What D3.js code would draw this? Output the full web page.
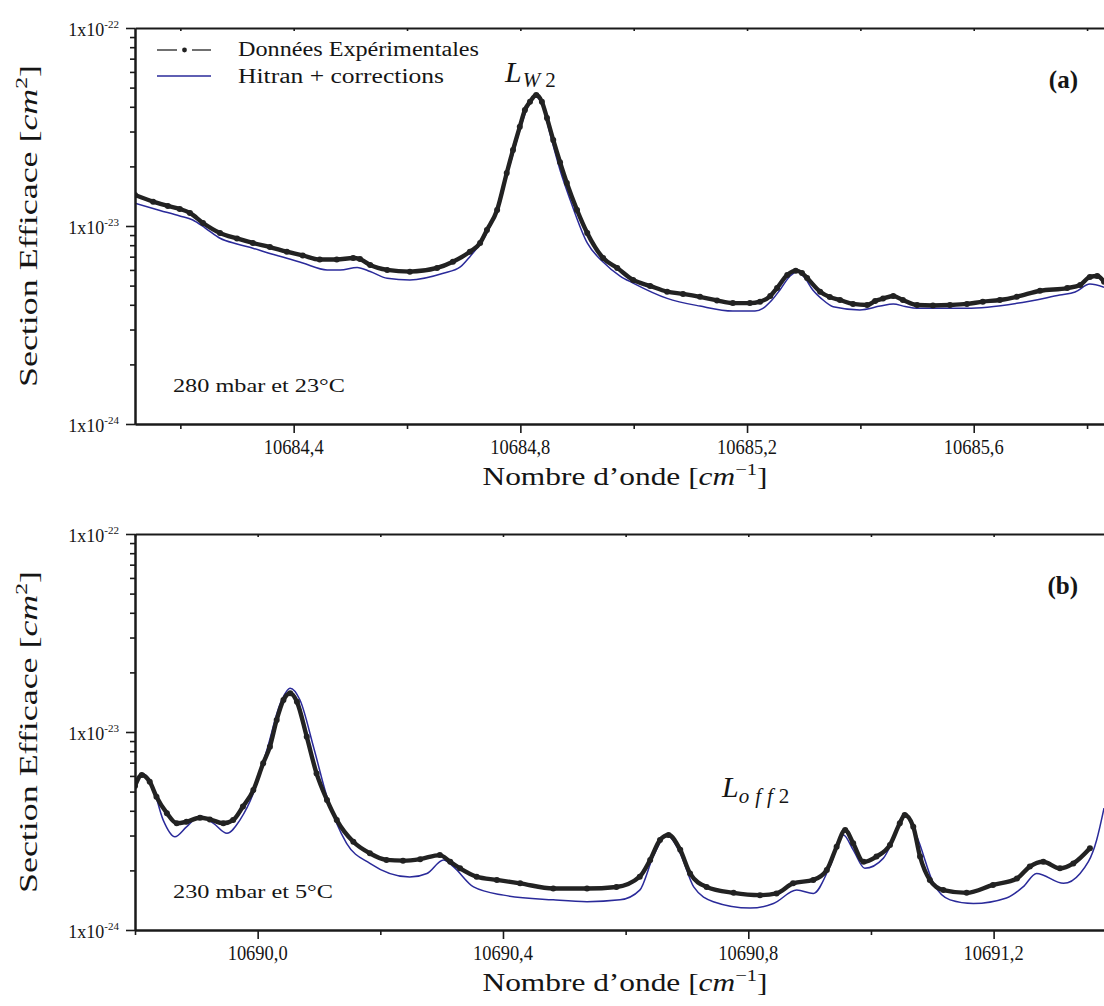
<!DOCTYPE html>
<html><head><meta charset="utf-8">
<script src="https://cdn.jsdelivr.net/npm/d3@7"></script>
<style>
body{margin:0;background:#fff}
svg{display:block}
text{font-family:"Liberation Serif","Times New Roman",serif;fill:#151515}
</style>
</head><body>
<svg id="chart" width="1104" height="1006"></svg>
<script>
// ---------- DATA ----------
// Panel (a): 280 mbar, 23 °C
const topExpWn = [10684.120,10684.152,10684.178,10684.199,10684.217,10684.240,10684.270,10684.300,10684.328,10684.358,10684.388,10684.416,10684.446,10684.476,10684.505,10684.517,10684.535,10684.565,10684.605,10684.653,10684.681,10684.711,10684.729,10684.741,10684.759,10684.776,10684.787,10684.799,10684.808,10684.817,10684.828,10684.838,10684.847,10684.858,10684.870,10684.882,10684.900,10684.918,10684.946,10684.971,10684.999,10685.029,10685.059,10685.087,10685.117,10685.147,10685.175,10685.205,10685.223,10685.241,10685.253,10685.271,10685.286,10685.297,10685.306,10685.329,10685.346,10685.364,10685.387,10685.412,10685.426,10685.440,10685.458,10685.475,10685.500,10685.528,10685.558,10685.588,10685.616,10685.646,10685.676,10685.717,10685.765,10685.788,10685.805,10685.818,10685.830];
const topExpVal = [14.34e-24,13.27e-24,12.62e-24,12.19e-24,11.63e-24,10.36e-24,9.22e-24,8.65e-24,8.21e-24,7.83e-24,7.42e-24,7.10e-24,6.77e-24,6.77e-24,6.89e-24,6.81e-24,6.35e-24,6.00e-24,5.88e-24,6.14e-24,6.60e-24,7.42e-24,8.21e-24,9.54e-24,12.05e-24,18.53e-24,24.2e-24,31.7e-24,38.5e-24,42.4e-24,45.9e-24,42.4e-24,35.1e-24,27.2e-24,21.0e-24,16.49e-24,12.05e-24,9.22e-24,6.89e-24,6.14e-24,5.34e-24,4.98e-24,4.66e-24,4.54e-24,4.39e-24,4.21e-24,4.08e-24,4.08e-24,4.15e-24,4.43e-24,4.86e-24,5.66e-24,5.95e-24,5.79e-24,5.46e-24,4.66e-24,4.38e-24,4.23e-24,4.04e-24,3.99e-24,4.18e-24,4.30e-24,4.43e-24,4.23e-24,3.99e-24,3.97e-24,3.99e-24,4.04e-24,4.15e-24,4.23e-24,4.39e-24,4.71e-24,4.86e-24,5.04e-24,5.53e-24,5.59e-24,5.23e-24];
const topHitWn = [10684.120,10684.164,10684.199,10684.222,10684.244,10684.270,10684.300,10684.328,10684.358,10684.388,10684.416,10684.459,10684.482,10684.512,10684.535,10684.565,10684.605,10684.664,10684.694,10684.711,10684.741,10684.755,10684.769,10684.785,10684.799,10684.812,10684.826,10684.838,10684.852,10684.870,10684.888,10684.918,10684.946,10684.976,10684.999,10685.059,10685.117,10685.175,10685.214,10685.228,10685.244,10685.258,10685.276,10685.288,10685.302,10685.316,10685.332,10685.352,10685.399,10685.435,10685.458,10685.479,10685.500,10685.588,10685.676,10685.752,10685.779,10685.805,10685.830];
const topHitVal = [13.02e-24,11.98e-24,11.23e-24,10.72e-24,9.77e-24,8.67e-24,8.11e-24,7.72e-24,7.26e-24,6.87e-24,6.50e-24,6.00e-24,6.00e-24,6.18e-24,5.89e-24,5.44e-24,5.34e-24,5.77e-24,6.21e-24,7.00e-24,9.22e-24,11.37e-24,15.8e-24,22.0e-24,30.5e-24,39.4e-24,45.0e-24,41.8e-24,29.5e-24,19.18e-24,13.53e-24,8.21e-24,6.58e-24,5.59e-24,5.15e-24,4.31e-24,3.94e-24,3.72e-24,3.72e-24,3.84e-24,4.23e-24,4.75e-24,5.59e-24,5.88e-24,5.46e-24,4.75e-24,4.28e-24,3.91e-24,3.77e-24,3.94e-24,4.04e-24,3.92e-24,3.84e-24,3.84e-24,4.07e-24,4.48e-24,4.64e-24,5.09e-24,4.90e-24];

// Panel (b): 230 mbar, 5 °C
const botExpWn = [10689.800,10689.811,10689.824,10689.835,10689.852,10689.868,10689.884,10689.906,10689.922,10689.944,10689.960,10689.976,10689.993,10690.009,10690.020,10690.031,10690.042,10690.053,10690.064,10690.080,10690.096,10690.113,10690.129,10690.156,10690.183,10690.210,10690.237,10690.265,10690.297,10690.314,10690.330,10690.357,10690.390,10690.428,10690.482,10690.537,10690.585,10690.623,10690.640,10690.656,10690.670,10690.689,10690.705,10690.732,10690.776,10690.819,10690.846,10690.873,10690.906,10690.928,10690.944,10690.958,10690.971,10690.988,10691.009,10691.031,10691.047,10691.055,10691.069,10691.080,10691.096,10691.118,10691.156,10691.199,10691.238,10691.259,10691.281,10691.308,10691.330,10691.357];
const botExpVal = [5.34e-24,6.07e-24,5.61e-24,4.71e-24,3.89e-24,3.46e-24,3.52e-24,3.69e-24,3.62e-24,3.46e-24,3.59e-24,4.20e-24,5.09e-24,6.95e-24,8.43e-24,11.50e-24,14.5e-24,15.69e-24,14.22e-24,9.47e-24,6.18e-24,4.54e-24,3.59e-24,2.79e-24,2.44e-24,2.26e-24,2.24e-24,2.28e-24,2.39e-24,2.21e-24,2.05e-24,1.86e-24,1.79e-24,1.72e-24,1.62e-24,1.62e-24,1.65e-24,1.86e-24,2.26e-24,2.85e-24,3.02e-24,2.54e-24,1.93e-24,1.65e-24,1.54e-24,1.50e-24,1.53e-24,1.72e-24,1.79e-24,2.01e-24,2.63e-24,3.20e-24,2.74e-24,2.21e-24,2.35e-24,2.69e-24,3.46e-24,3.81e-24,3.32e-24,2.35e-24,1.79e-24,1.59e-24,1.54e-24,1.69e-24,1.82e-24,2.09e-24,2.21e-24,2.05e-24,2.17e-24,2.59e-24];
const botHitWn = [10689.800,10689.811,10689.827,10689.846,10689.865,10689.884,10689.906,10689.928,10689.950,10689.971,10689.993,10690.015,10690.037,10690.053,10690.069,10690.091,10690.113,10690.145,10690.183,10690.248,10690.276,10690.303,10690.319,10690.352,10690.401,10690.482,10690.537,10690.591,10690.623,10690.645,10690.667,10690.689,10690.711,10690.743,10690.803,10690.841,10690.879,10690.906,10690.933,10690.955,10690.971,10690.990,10691.020,10691.036,10691.055,10691.075,10691.102,10691.129,10691.167,10691.221,10691.248,10691.270,10691.314,10691.341,10691.368,10691.380];
const botHitVal = [5.53e-24,6.18e-24,5.51e-24,3.59e-24,2.96e-24,3.32e-24,3.77e-24,3.46e-24,3.08e-24,3.59e-24,4.90e-24,8.11e-24,13.96e-24,16.63e-24,14.5e-24,8.43e-24,4.71e-24,2.74e-24,2.17e-24,1.85e-24,1.93e-24,2.26e-24,2.09e-24,1.65e-24,1.50e-24,1.42e-24,1.39e-24,1.42e-24,1.59e-24,2.35e-24,3.02e-24,2.44e-24,1.65e-24,1.39e-24,1.29e-24,1.36e-24,1.59e-24,1.53e-24,2.09e-24,3.02e-24,2.54e-24,2.05e-24,2.30e-24,2.85e-24,3.89e-24,2.96e-24,1.72e-24,1.42e-24,1.36e-24,1.45e-24,1.65e-24,1.93e-24,1.72e-24,1.93e-24,2.85e-24,4.13e-24];

// axis ticks / labels
const topMajorTicks = [10684.4,10684.8,10685.2,10685.6];
const topMinorTicks = [10684.2,10684.6,10685.0,10685.4,10685.8];
const botMajorTicks = [10690.0,10690.4,10690.8,10691.2];
const botMinorTicks = [10689.8,10690.2,10690.6,10691.0,10691.4];
const yDecades = [1e-24,1e-23,1e-22];
const yDecadeExp = ["-24","-23","-22"];
const legendLabels = ["Données Expérimentales","Hitran + corrections"];
const conditionLabels = ["280 mbar et 23°C","230 mbar et 5°C"];
const panelTags = ["(a)","(b)"];

// ---------- DRAWING ----------
const svg = d3.select("#chart");
const BLACK = "#222222", BLUE = "#2a2a9a";

const yMinor = [];
[1e-24,1e-23].forEach(d => { for (let k=2;k<=9;k++) yMinor.push(k*d); });

function panel(cfg){
  const x = d3.scaleLinear().domain(cfg.xDomain).range([cfg.left, cfg.right]);
  const y = d3.scaleLog().domain([1e-24,1e-22]).range([cfg.bottom, cfg.top]);
  const g = svg.append("g");

  const cid = "clip"+cfg.id;
  svg.append("clipPath").attr("id",cid).append("rect")
    .attr("x",cfg.left).attr("y",cfg.top-4).attr("width",cfg.right-cfg.left).attr("height",cfg.bottom-cfg.top+4);
  const plot = g.append("g").attr("clip-path",`url(#${cid})`);

  // Hitran curve
  const hitData = cfg.hitWn.map((w,i)=>[w,cfg.hitVal[i]]);
  plot.append("path").datum(hitData)
    .attr("fill","none").attr("stroke",BLUE).attr("stroke-width",1.5)
    .attr("d", d3.line().x(d=>x(d[0])).y(d=>y(d[1])).curve(d3.curveMonotoneX));

  // experimental data
  const expData = cfg.expWn.map((w,i)=>[w,cfg.expVal[i]]);
  plot.append("path").datum(expData)
    .attr("fill","none").attr("stroke",BLACK).attr("stroke-width",4.4).attr("stroke-linejoin","round")
    .attr("d", d3.line().x(d=>x(d[0])).y(d=>y(d[1])).curve(d3.curveMonotoneX));
  plot.selectAll("circle.e").data(expData).join("circle")
    .attr("cx",d=>x(d[0])).attr("cy",d=>y(d[1])).attr("r",3).attr("fill",BLACK);

  // axes
  const axStyle = sel => { sel.selectAll("path.domain").attr("stroke","#1a1a1a").attr("stroke-width",2);
                           sel.selectAll(".tick line").attr("stroke","#1a1a1a").attr("stroke-width",1.6);
                           sel.selectAll(".tick text").remove(); };
  g.append("g").attr("transform",`translate(0,${cfg.bottom})`)
    .call(d3.axisBottom(x).tickValues(cfg.major).tickSizeInner(9).tickSizeOuter(0)).call(axStyle);
  g.append("g").attr("transform",`translate(0,${cfg.bottom})`)
    .call(d3.axisBottom(x).tickValues(cfg.minor).tickSizeInner(5).tickSizeOuter(0)).call(axStyle);
  g.append("g").attr("transform",`translate(0,${cfg.top})`)
    .call(d3.axisTop(x).tickValues(cfg.major.concat(cfg.minor)).tickSizeInner(-3).tickSizeOuter(0)).call(axStyle);
  g.append("g").attr("transform",`translate(${cfg.left},0)`)
    .call(d3.axisLeft(y).tickValues(yDecades).tickSizeInner(9).tickSizeOuter(0)).call(axStyle);
  g.append("g").attr("transform",`translate(${cfg.left},0)`)
    .call(d3.axisLeft(y).tickValues(yMinor).tickSizeInner(5).tickSizeOuter(0)).call(axStyle);

  // x tick labels
  g.selectAll("text.xt").data(cfg.major).join("text")
    .attr("x",d=>x(d)).attr("y",cfg.bottom+30)
    .attr("text-anchor","middle").attr("font-size",20)
    .attr("textLength",60).attr("lengthAdjust","spacingAndGlyphs")
    .text(d=>d3.format(".1f")(d).replace(".",","));

  // y tick labels
  yDecades.forEach((d,i)=>{
    const t = g.append("text").attr("x",cfg.left-16).attr("y",y(d)+7.5)
      .attr("text-anchor","end").attr("font-size",18);
    t.append("tspan").text("1x10");
    t.append("tspan").attr("dy",-8).attr("font-size",11).text(yDecadeExp[i]);
  });

  // y title
  const cy = (cfg.top+cfg.bottom)/2;
  const yt = g.append("text").attr("transform",`translate(37,${cy}) rotate(-90)`)
    .attr("text-anchor","middle").attr("font-size",26)
    .attr("textLength",322).attr("lengthAdjust","spacingAndGlyphs");
  yt.append("tspan").text("Section Efficace [");
  yt.append("tspan").attr("font-style","italic").text("cm");
  yt.append("tspan").attr("dy",-10).attr("font-size",17).text("2");
  yt.append("tspan").attr("dy",10).text("]");

  // x title
  const xt = g.append("text").attr("x",625).attr("y",cfg.bottom+61)
    .attr("text-anchor","middle").attr("font-size",26)
    .attr("textLength",285).attr("lengthAdjust","spacingAndGlyphs");
  xt.append("tspan").text("Nombre d’onde [");
  xt.append("tspan").attr("font-style","italic").text("cm");
  xt.append("tspan").attr("dy",-10).attr("font-size",17).text("−1");
  xt.append("tspan").attr("dy",10).text("]");

  // panel tag
  g.append("text").attr("x",1078).attr("y",cfg.top+60).attr("text-anchor","end")
    .attr("font-size",25).attr("font-weight","bold").text(cfg.tag);

  // condition text
  g.append("text").attr("x",173).attr("y",cfg.bottom-32)
    .attr("font-size",19).attr("textLength",cfg.condLen).attr("lengthAdjust","spacingAndGlyphs")
    .text(cfg.cond);
  return {x,y,g};
}

panel({id:"a", xDomain:[10684.12,10685.84], left:135, right:135+1.72*566.7, top:28, bottom:424,
  expWn:topExpWn, expVal:topExpVal, hitWn:topHitWn, hitVal:topHitVal,
  major:topMajorTicks, minor:topMinorTicks, tag:panelTags[0], cond:conditionLabels[0], condLen:172});
panel({id:"b", xDomain:[10689.8,10691.4], left:135, right:135+1.6*613.3, top:534, bottom:930,
  expWn:botExpWn, expVal:botExpVal, hitWn:botHitWn, hitVal:botHitVal,
  major:botMajorTicks, minor:botMinorTicks, tag:panelTags[1], cond:conditionLabels[1], condLen:160});

// legend (panel a)
const lg = svg.append("g");
lg.append("line").attr("x1",157).attr("x2",177).attr("y1",50).attr("y2",50).attr("stroke",BLACK).attr("stroke-width",1.3);
lg.append("line").attr("x1",192).attr("x2",211).attr("y1",50).attr("y2",50).attr("stroke",BLACK).attr("stroke-width",1.3);
lg.append("circle").attr("cx",184.5).attr("cy",50).attr("r",2.4).attr("fill",BLACK);
lg.append("line").attr("x1",157).attr("x2",211).attr("y1",76).attr("y2",76).attr("stroke",BLUE).attr("stroke-width",1.4);
lg.append("text").attr("x",238).attr("y",56).attr("font-size",20)
  .attr("textLength",241).attr("lengthAdjust","spacingAndGlyphs").text(legendLabels[0]);
lg.append("text").attr("x",238).attr("y",83).attr("font-size",20)
  .attr("textLength",206).attr("lengthAdjust","spacingAndGlyphs").text(legendLabels[1]);

// line labels
const l1 = svg.append("text").attr("x",505).attr("y",82).attr("font-size",30).attr("font-style","italic");
l1.append("tspan").text("L");
l1.append("tspan").attr("dy",5).attr("font-size",21).attr("dx",1).text("W");
l1.append("tspan").attr("font-style","normal").attr("font-size",21).attr("dx",5).text("2");

const l2 = svg.append("text").attr("x",722).attr("y",797).attr("font-size",30).attr("font-style","italic");
l2.append("tspan").text("L");
l2.append("tspan").attr("dy",6).attr("font-size",21).attr("letter-spacing",6).text("off");
l2.append("tspan").attr("font-style","normal").attr("font-size",21).attr("dx",0).text("2");
</script>
</body></html>
